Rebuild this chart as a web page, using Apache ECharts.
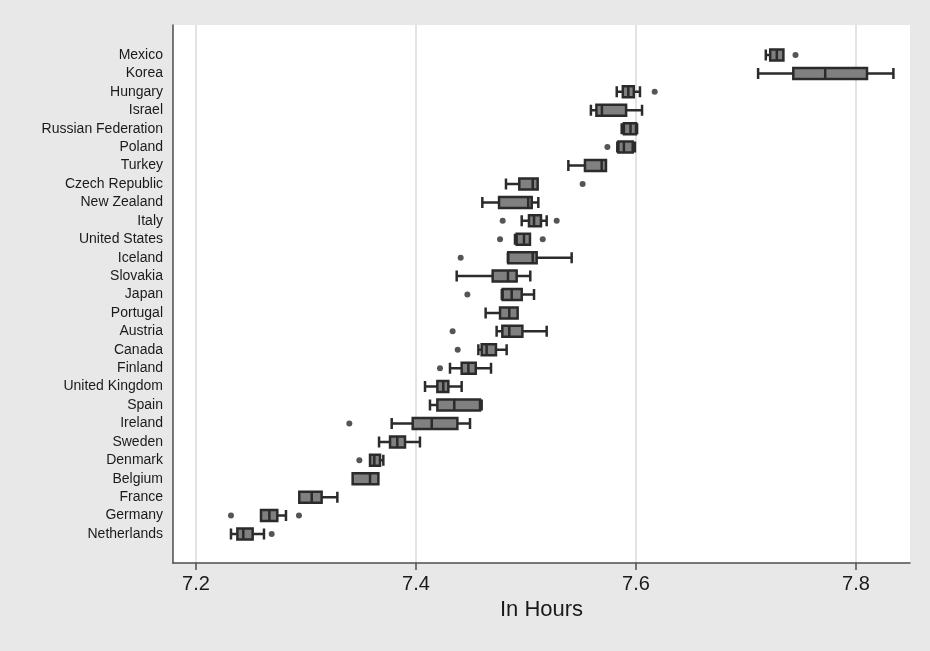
<!DOCTYPE html>
<html>
<head>
<meta charset="utf-8">
<script src="https://cdn.jsdelivr.net/npm/echarts@6/dist/echarts.min.js"></script>
<style>
  html, body { margin: 0; padding: 0; background: #e8e8e8; }
  #chart { width: 930px; height: 651px; }
</style>
</head>
<body>
<div id="chart"></div>
<script>
// Categories, top to bottom
const categories = ["Mexico", "Korea", "Hungary", "Israel", "Russian Federation", "Poland", "Turkey",
  "Czech Republic", "New Zealand", "Italy", "United States", "Iceland", "Slovakia", "Japan",
  "Portugal", "Austria", "Canada", "Finland", "United Kingdom", "Spain", "Ireland", "Sweden",
  "Denmark", "Belgium", "France", "Germany", "Netherlands"];

const lowWhisker    = [7.718, 7.711, 7.5825, 7.559, 7.587, 7.583, 7.5385, 7.4818, 7.4603, 7.4961, 7.490, 7.4835, 7.437, 7.478, 7.4633, 7.4733, 7.4567, 7.4309, 7.4082, 7.4127, 7.3779, 7.3664, 7.3582, 7.3424, 7.2939, 7.2591, 7.2318];
const lowerQuartile = [7.722, 7.743, 7.588, 7.564, 7.589, 7.584, 7.5536, 7.4939, 7.4755, 7.5027, 7.4915, 7.4839, 7.4697, 7.4788, 7.4764, 7.4785, 7.4597, 7.4415, 7.4194, 7.4194, 7.397, 7.3764, 7.3582, 7.3424, 7.2939, 7.2591, 7.2376];
const medianVal     = [7.728, 7.772, 7.593, 7.569, 7.595, 7.589, 7.5688, 7.5061, 7.502, 7.5073, 7.4982, 7.5061, 7.4836, 7.487, 7.4848, 7.4848, 7.4642, 7.4476, 7.4248, 7.4348, 7.4143, 7.383, 7.3621, 7.3582, 7.3052, 7.2667, 7.243];
const upperQuartile = [7.734, 7.810, 7.598, 7.591, 7.600, 7.597, 7.5727, 7.5106, 7.5052, 7.5136, 7.5036, 7.5097, 7.4915, 7.4961, 7.4924, 7.4967, 7.4727, 7.4543, 7.4294, 7.4582, 7.4376, 7.390, 7.3673, 7.3658, 7.3142, 7.2739, 7.2515];
const highWhisker   = [7.734, 7.834, 7.6036, 7.6055, 7.601, 7.599, 7.5727, 7.5106, 7.5112, 7.5188, 7.5036, 7.5415, 7.5039, 7.5073, 7.4924, 7.5188, 7.4824, 7.4682, 7.4415, 7.4597, 7.4491, 7.4036, 7.3703, 7.3658, 7.3285, 7.2818, 7.2618];

const outlierCountry = ["Mexico", "Hungary", "Poland", "Czech Republic", "Italy", "Italy", "United States", "United States",
  "Iceland", "Japan", "Austria", "Canada", "Finland", "Ireland", "Denmark", "Germany", "Germany", "Netherlands"];
const outlierValue   = [7.745, 7.617, 7.574, 7.5515, 7.4788, 7.5279, 7.4764, 7.5152,
  7.4406, 7.4467, 7.4333, 7.4379, 7.4218, 7.3394, 7.3485, 7.2318, 7.2936, 7.2688];

const xTicks = [7.2, 7.4, 7.6, 7.8];
const xMin = 7.17909, xMax = 7.84909;

const boxData = categories.map((c, i) => [lowWhisker[i], lowerQuartile[i], medianVal[i], upperQuartile[i], highWhisker[i]]);
const outlierData = outlierCountry.map((c, i) => [outlierValue[i], c]);

const axisColor = '#4d4d4d';
const chart = echarts.init(document.getElementById('chart'), null, { renderer: 'canvas' });
chart.setOption({
  backgroundColor: '#e8e8e8',
  animation: false,
  grid: [
    { left: 173, right: 20, top: 25, bottom: 88, show: true, backgroundColor: '#ffffff', borderWidth: 0 },
    { left: 173, right: 20, top: 45.79, bottom: 107.79 }
  ],
  xAxis: [
    {
      gridIndex: 0, type: 'value', min: xMin, max: xMax,
      axisLine: { show: true, onZero: false, lineStyle: { color: axisColor, width: 1.5 } },
      axisTick: { show: true, length: 7, customValues: xTicks, lineStyle: { color: axisColor, width: 1.5 } },
      axisLabel: { customValues: xTicks, fontSize: 20, color: '#1a1a1a', margin: 11,
        fontFamily: 'Liberation Sans, Arial, sans-serif', formatter: v => v.toFixed(1) },
      splitLine: { show: true, lineStyle: { color: '#e3e3e3', width: 2 } },
      name: 'In Hours', nameLocation: 'middle', nameGap: 35,
      nameTextStyle: { fontSize: 22, color: '#1a1a1a', fontFamily: 'Liberation Sans, Arial, sans-serif' }
    },
    { gridIndex: 1, type: 'value', min: xMin, max: xMax, show: false, splitLine: { show: false } }
  ],
  yAxis: [
    {
      gridIndex: 0, type: 'value', min: 0, max: 1,
      axisLine: { show: true, onZero: false, lineStyle: { color: axisColor, width: 1.5 } },
      axisTick: { show: false }, axisLabel: { show: false }, splitLine: { show: false }
    },
    {
      gridIndex: 1, type: 'category', data: categories, inverse: true,
      axisLine: { show: false }, axisTick: { show: false }, splitLine: { show: false },
      axisLabel: { fontSize: 14, color: '#1a1a1a', margin: 10, fontFamily: 'Liberation Sans, Arial, sans-serif' }
    }
  ],
  series: [
    {
      type: 'boxplot', xAxisIndex: 1, yAxisIndex: 1,
      data: boxData,
      boxWidth: [11, 11],
      itemStyle: { color: '#808080', borderColor: '#2b2b2b', borderWidth: 2.5 }
    },
    {
      type: 'scatter', xAxisIndex: 1, yAxisIndex: 1,
      data: outlierData,
      symbol: 'circle', symbolSize: 6,
      itemStyle: { color: '#2b2b2b' }
    }
  ]
});
</script>
</body>
</html>
